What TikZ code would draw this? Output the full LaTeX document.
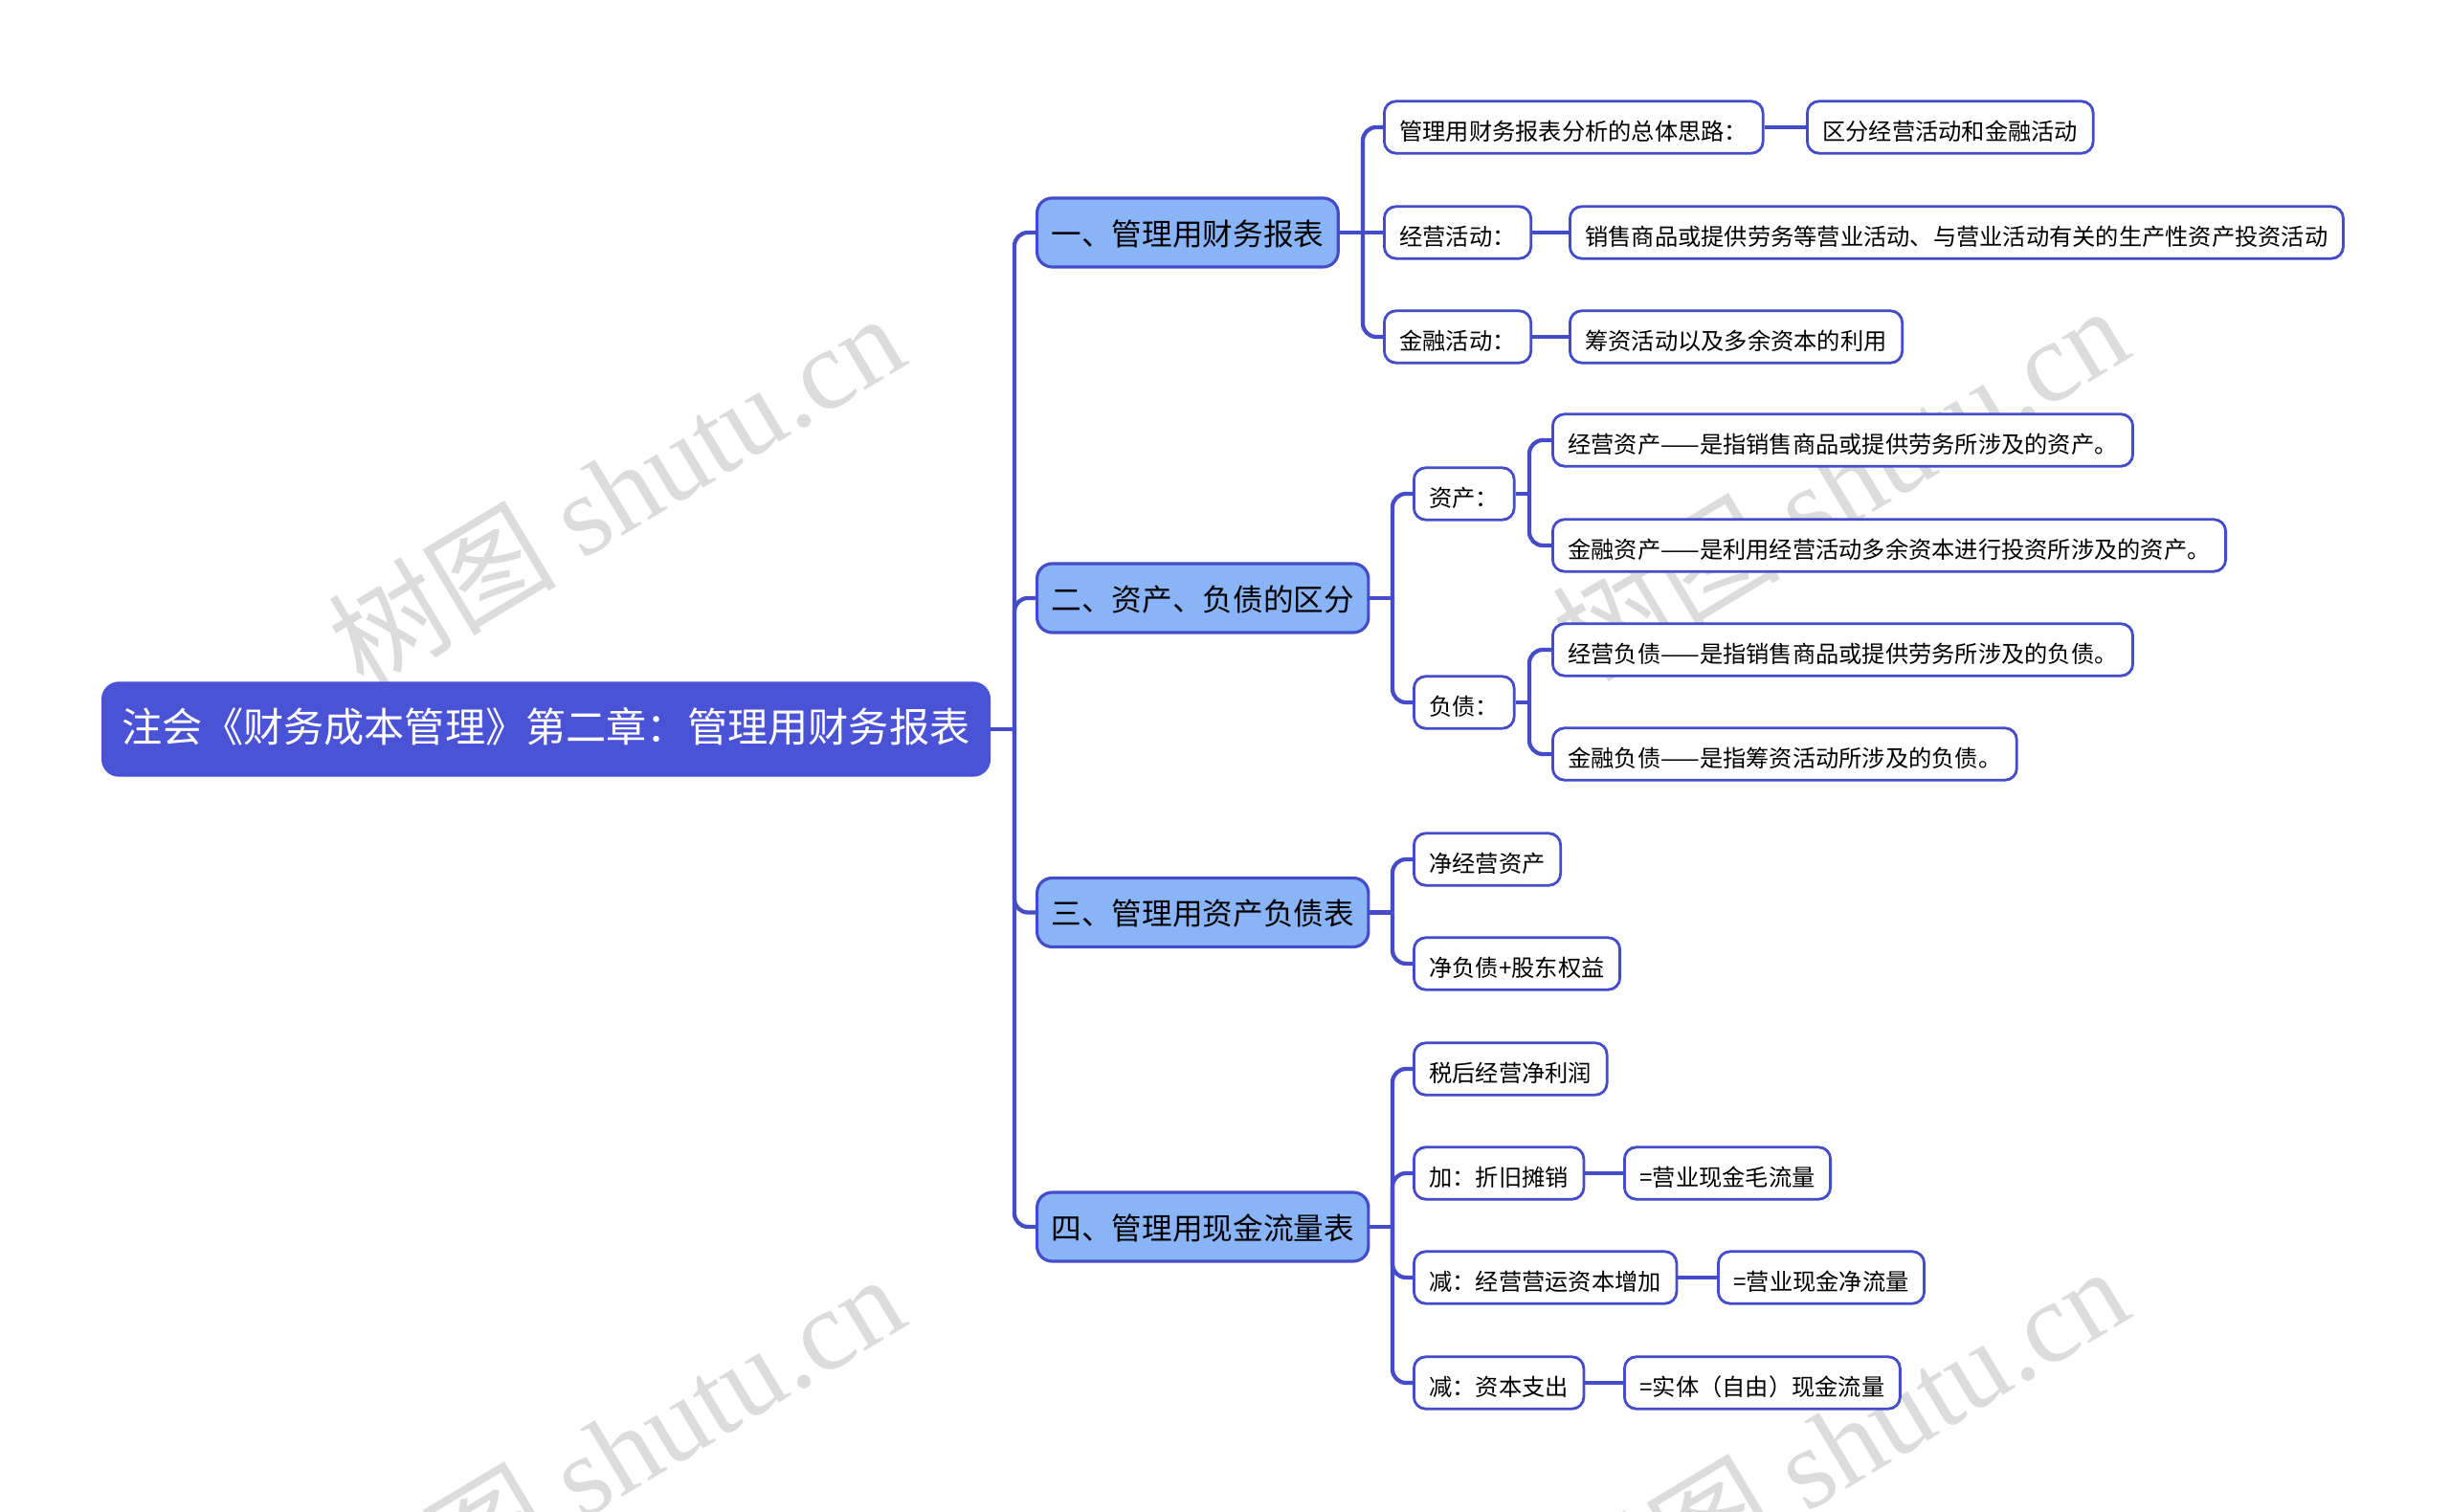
\documentclass[tikz,border=0pt]{standalone}
\usepackage{fontspec}
\setmainfont{Noto Sans CJK SC}
\newfontfamily\wmserif{Liberation Serif}
\usetikzlibrary{positioning,calc}
\definecolor{MapBlue}{RGB}{74,82,214}
\definecolor{MapLine}{RGB}{68,76,202}
\definecolor{TopicBlue}{RGB}{138,180,248}
\definecolor{MarkGray}{RGB}{220,220,220}
\tikzset{
  root/.style={draw=MapBlue,fill=MapBlue,text=white,rounded corners=5pt,anchor=west,inner xsep=0.21cm,
    minimum height=0.98cm,font=\fontsize{12}{14}\selectfont,text height=0.82em,text depth=0.06em},
  topic/.style={draw=MapLine,fill=TopicBlue,line width=0.9pt,rounded corners=4.5pt,anchor=west,inner xsep=0.15cm,
    minimum height=0.72cm,font=\fontsize{9}{11}\selectfont,text height=0.82em,text depth=0.06em},
  leaf/.style={draw=MapLine,fill=white,line width=0.8pt,rounded corners=3.5pt,anchor=west,inner xsep=0.16cm,
    minimum height=0.54cm,font=\fontsize{6.9}{8}\selectfont,text height=0.82em,text depth=0.06em},
  link/.style={draw=MapLine,line width=1.2pt,rounded corners=4pt},
  wmark/.style={text=MarkGray,font=\fontsize{34}{38}\selectfont,rotate=31,inner sep=0pt},
}

\begin{document}
\begin{tikzpicture}
\fill[white] (0,0) rectangle (25.6,-15.8);
\useasboundingbox (0,0) rectangle (25.6,-15.8);
% watermarks
\begin{scope}
\clip (0,0) rectangle (25.6,-15.8);
\node[wmark] (wm1) at (6.43,-5.12) {树图 {\wmserif shutu.cn}};
\node[wmark] (wm2) at (19.22,-5.04) {树图 {\wmserif shutu.cn}};
\node[wmark] (wm3) at (6.43,-15.16) {树图 {\wmserif shutu.cn}};
\node[wmark] (wm4) at (19.22,-15.08) {树图 {\wmserif shutu.cn}};
\end{scope}
% nodes
\node[root] (root) at (1.06,-7.62) {注会《财务成本管理》第二章：管理用财务报表};
\node[topic] (h1) at (10.82,-2.43) {一、管理用财务报表};
\node[topic] (h2) at (10.82,-6.25) {二、资产、负债的区分};
\node[topic] (h3) at (10.82,-9.535) {三、管理用资产负债表};
\node[topic] (h4) at (10.82,-12.82) {四、管理用现金流量表};
\node[leaf] (a1) at (14.45,-1.33) {管理用财务报表分析的总体思路：};
\node[leaf] (a1b) at (18.87,-1.33) {区分经营活动和金融活动};
\node[leaf] (a2) at (14.45,-2.43) {经营活动：};
\node[leaf] (a2b) at (16.39,-2.43) {销售商品或提供劳务等营业活动、与营业活动有关的生产性资产投资活动};
\node[leaf] (a3) at (14.45,-3.52) {金融活动：};
\node[leaf] (a3b) at (16.39,-3.52) {筹资活动以及多余资本的利用};
\node[leaf] (b1) at (14.76,-5.16) {资产：};
\node[leaf] (b1a) at (16.21,-4.60) {经营资产——是指销售商品或提供劳务所涉及的资产。};
\node[leaf] (b1b) at (16.21,-5.70) {金融资产——是利用经营活动多余资本进行投资所涉及的资产。};
\node[leaf] (b2) at (14.76,-7.34) {负债：};
\node[leaf] (b2a) at (16.21,-6.79) {经营负债——是指销售商品或提供劳务所涉及的负债。};
\node[leaf] (b2b) at (16.21,-7.88) {金融负债——是指筹资活动所涉及的负债。};
\node[leaf] (c1) at (14.76,-8.98) {净经营资产};
\node[leaf] (c2) at (14.76,-10.07) {净负债+股东权益};
\node[leaf] (d1) at (14.76,-11.17) {税后经营净利润};
\node[leaf] (d2) at (14.76,-12.26) {加：折旧摊销};
\node[leaf] (d2b) at (16.96,-12.26) {=营业现金毛流量};
\node[leaf] (d3) at (14.76,-13.35) {减：经营营运资本增加};
\node[leaf] (d3b) at (17.94,-13.35) {=营业现金净流量};
\node[leaf] (d4) at (14.76,-14.45) {减：资本支出};
\node[leaf] (d4b) at (16.96,-14.45) {=实体（自由）现金流量};
% trunks
\coordinate (rt) at (10.60,-7.62);
\coordinate (t1) at (14.24,-2.43);
\coordinate (t2) at (14.55,-6.25);
\coordinate (t2a) at (15.98,-5.16);
\coordinate (t2b) at (15.98,-7.34);
\coordinate (t3) at (14.55,-9.535);
\coordinate (t4) at (14.55,-12.82);
% connectors
\draw[link] (root.east) -- (rt);
\draw[link] (rt) |- (h1.west);
\draw[link] (rt) |- (h2.west);
\draw[link] (rt) |- (h3.west);
\draw[link] (rt) |- (h4.west);
\draw[link] (h1.east) -- (a2.west);
\draw[link] (t1) |- (a1.west);
\draw[link] (t1) |- (a3.west);
\draw[link] (a1.east) -- (a1b.west);
\draw[link] (a2.east) -- (a2b.west);
\draw[link] (a3.east) -- (a3b.west);
\draw[link] (h2.east) -- (t2);
\draw[link] (t2) |- (b1.west);
\draw[link] (t2) |- (b2.west);
\draw[link] (b1.east) -- (t2a);
\draw[link] (t2a) |- (b1a.west);
\draw[link] (t2a) |- (b1b.west);
\draw[link] (b2.east) -- (t2b);
\draw[link] (t2b) |- (b2a.west);
\draw[link] (t2b) |- (b2b.west);
\draw[link] (h3.east) -- (t3);
\draw[link] (t3) |- (c1.west);
\draw[link] (t3) |- (c2.west);
\draw[link] (h4.east) -- (t4);
\draw[link] (t4) |- (d1.west);
\draw[link] (t4) |- (d2.west);
\draw[link] (t4) |- (d3.west);
\draw[link] (t4) |- (d4.west);
\draw[link] (d2.east) -- (d2b.west);
\draw[link] (d3.east) -- (d3b.west);
\draw[link] (d4.east) -- (d4b.west);
\end{tikzpicture}
\end{document}
